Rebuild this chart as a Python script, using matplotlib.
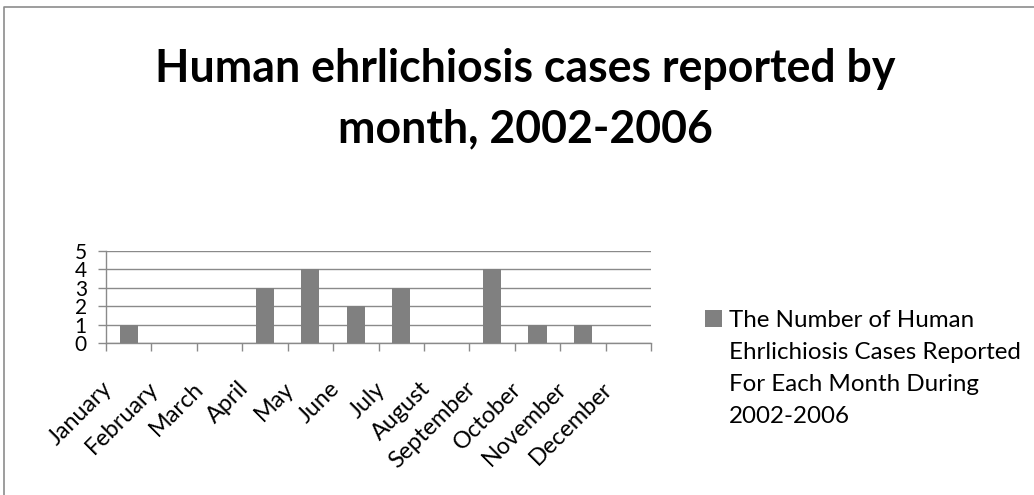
import matplotlib
matplotlib.use("Agg")
import matplotlib.pyplot as plt
import matplotlib.transforms as mtransforms
from matplotlib.lines import Line2D
from matplotlib.patches import Rectangle

# Data
months = ["January", "February", "March", "April", "May", "June",
          "July", "August", "September", "October", "November", "December"]
cases = [1, 0, 0, 3, 4, 2, 3, 0, 4, 1, 1, 0]
y_ticks = [0, 1, 2, 3, 4, 5]
title_lines = ["Human ehrlichiosis cases reported by", "month, 2002-2006"]
legend_lines = ["The Number of Human", "Ehrlichiosis Cases Reported",
                "For Each Month During", "2002-2006"]

W, H, DPI = 1034, 495, 100
BAR = "#808080"
GRID = "#8a8a8a"

plt.rcParams["font.family"] = ["Lato", "DejaVu Sans"]

fig = plt.figure(figsize=(W / DPI, H / DPI), dpi=DPI)
fig.patch.set_facecolor("white")
renderer = fig.canvas.get_renderer()


def fx(x):
    return x / W


def fy(y):
    return 1 - y / H


def fit_width(txt, target_px):
    w = txt.get_window_extent(renderer).width
    txt.set_fontsize(txt.get_fontsize() * target_px / w)


# Chart area frame (top and left edges)
fig.add_artist(Line2D([fx(4), fx(4), 1.0], [0.0, fy(7), fy(7)],
                      transform=fig.transFigure, color="#8c8c8c", lw=1.2))

# Title
t1 = fig.text(fx(525), fy(82), title_lines[0], ha="center", va="baseline",
              fontweight="bold", fontsize=30, color="black")
fit_width(t1, 740)
t2 = fig.text(fx(525), fy(142), title_lines[1], ha="center", va="baseline",
              fontweight="bold", fontsize=t1.get_fontsize(), color="black")

# Plot area
ax = fig.add_axes([fx(106), fy(343), fx(651) - fx(106), fy(251) - fy(343)])
xpos = list(range(len(months)))
ax.bar(xpos, cases, width=0.4, color=BAR, zorder=3)
ax.set_xlim(-0.5, len(months) - 0.5)
ax.set_ylim(0, 5)
ax.set_yticks(y_ticks)
ax.yaxis.grid(True, color=GRID, lw=1.0)
ax.set_axisbelow(True)
for s in ("top", "right"):
    ax.spines[s].set_visible(False)
for s in ("left", "bottom"):
    ax.spines[s].set_color(GRID)
    ax.spines[s].set_linewidth(1.0)
ax.tick_params(axis="y", length=5.8, width=1.0, color=GRID, labelsize=15,
               pad=8.0, labelcolor="black")
ax.set_xticks([i - 0.5 for i in range(len(months) + 1)])
ax.set_xticklabels([])
ax.tick_params(axis="x", length=5.8, width=1.0, color=GRID)

# Rotated month labels, right end just left of each category centre
label_trans = (mtransforms.blended_transform_factory(ax.transData, fig.transFigure)
               + mtransforms.ScaledTranslation(-12 / DPI, 0, fig.dpi_scale_trans))
labels = []
for i, m in enumerate(months):
    labels.append(ax.text(i, fy(378), m, rotation=45, ha="right", va="top",
                          transform=label_trans, fontsize=16, color="black",
                          clip_on=False))
# size so that the rotated "September" spans about 95 px horizontally
sep = labels[months.index("September")]
ext = sep.get_window_extent(renderer).width
scale = 95 / ext
for t in labels:
    t.set_fontsize(t.get_fontsize() * scale)

# Legend
fig.add_artist(Rectangle((fx(705), fy(327)), fx(722) - fx(705), fy(310) - fy(327),
                         transform=fig.transFigure, facecolor=BAR, edgecolor="none"))
leg_texts = []
for k, line in enumerate(legend_lines):
    leg_texts.append(fig.text(fx(729), fy(327 + 32 * k), line, ha="left",
                              va="baseline", fontsize=18, color="black"))
fit_width(leg_texts[1], 291)
for t in leg_texts:
    t.set_fontsize(leg_texts[1].get_fontsize())

fig.savefig("out.png", dpi=DPI, facecolor="white")
